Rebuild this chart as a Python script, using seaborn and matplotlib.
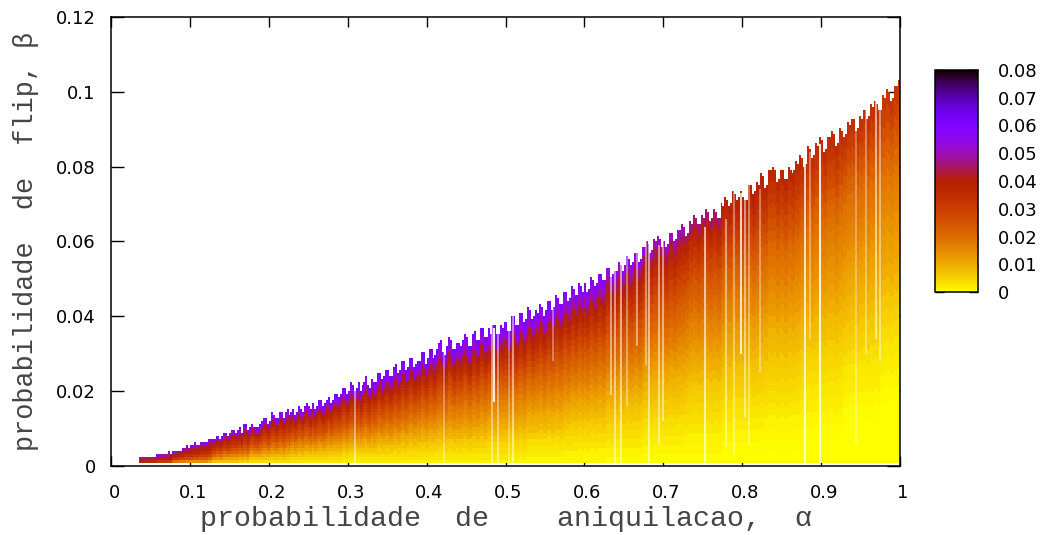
import numpy as np
import pandas as pd
import seaborn as sns
import matplotlib
matplotlib.use("Agg")
import matplotlib.pyplot as plt
from matplotlib.transforms import ScaledTranslation

x_label = "probabilidade  de    aniquilacao,  α"
y_label = "probabilidade  de  flip, β"
x_ticks = [0, 0.1, 0.2, 0.3, 0.4, 0.5, 0.6, 0.7, 0.8, 0.9, 1]
x_tick_labels = ["0", "0.1", "0.2", "0.3", "0.4", "0.5", "0.6", "0.7", "0.8", "0.9", "1"]
y_ticks = [0, 0.02, 0.04, 0.06, 0.08, 0.1, 0.12]
y_tick_labels = ["0", "0.02", "0.04", "0.06", "0.08", "0.1", "0.12"]
cbar_ticks = [0, 0.01, 0.02, 0.03, 0.04, 0.05, 0.06, 0.07, 0.08]
cbar_tick_labels = ["0", "0.01", "0.02", "0.03", "0.04", "0.05", "0.06", "0.07", "0.08"]

ALPHA_STEP = 0.0025
BETA_STEP = 0.0008
BETA_FLOOR = 0.0008
FIRST_COLUMN = 14

# Upper edge of the coloured region (in 0.001 of beta), one per alpha column from 0.035 on
column_tops = [
    2.0, 2.0, 2.1, 2.2, 2.2, 2.3,
    2.4, 2.4, 2.4, 2.6, 2.8, 2.8, 2.9, 3.0, 3.2, 3.4, 3.2, 3.4, 3.6, 3.6, 4.0, 4.0, 4.1, 4.6, 4.9, 4.6,
    5.0, 5.2, 5.7, 5.4, 5.6, 6.4, 6.2, 5.8, 6.0, 6.6, 7.2, 6.6, 6.8, 7.4, 7.7, 7.2, 7.4, 8.6, 8.6, 8.0,
    8.4, 9.4, 9.6, 8.8, 9.0, 9.8, 8.8, 10.6, 10.6, 9.4, 10.0, 11.2, 10.4, 9.8, 9.8, 10.6, 11.4, 12.6, 12.4, 11.2,
    12.0, 13.8, 13.6, 12.4, 12.8, 14.4, 13.8, 12.6, 14.2, 15.0, 13.2, 14.0, 15.0, 13.6, 14.4, 15.8, 15.2, 14.2, 15.8, 16.6,
    15.4, 14.6, 16.6, 15.2, 16.0, 17.2, 17.0, 15.8, 16.2, 17.6, 18.0, 16.4, 17.4, 19.0, 19.2, 17.8, 18.6, 20.6, 20.6, 18.8,
    19.8, 21.8, 21.6, 19.6, 20.6, 22.0, 20.0, 21.2, 22.4, 23.6, 21.4, 20.4, 23.0, 21.8, 22.2, 24.4, 24.8, 22.6, 23.6, 25.0,
    25.2, 23.4, 24.0, 26.2, 26.6, 24.6, 25.4, 27.8, 27.6, 25.6, 26.4, 28.6, 28.8, 26.2, 26.8, 28.0, 27.4, 30.2, 29.8, 27.2,
    28.4, 31.0, 30.6, 28.8, 29.2, 30.8, 32.6, 33.4, 30.4, 29.6, 31.4, 34.0, 33.6, 31.0, 30.6, 32.8, 32.6, 31.6, 33.0, 35.0,
    33.8, 31.6, 32.0, 35.0, 35.4, 33.0, 33.6, 36.8, 36.6, 34.0, 34.2, 36.2, 35.2, 37.6, 37.2, 34.8, 34.6, 37.4, 36.8, 38.4,
    38.2, 35.6, 36.0, 39.8, 39.4, 37.0, 37.4, 40.6, 40.2, 38.0, 38.6, 42.0, 41.6, 39.0, 39.4, 41.4, 40.4, 43.0, 42.4, 40.0,
    41.0, 43.8, 43.4, 41.6, 42.2, 45.2, 44.8, 42.6, 43.0, 46.4, 46.0, 43.8, 44.4, 47.4, 47.0, 45.0, 45.4, 48.4, 47.8, 46.0,
    48.4, 46.2, 46.8, 50.0, 49.6, 47.6, 48.2, 51.2, 50.8, 49.0, 49.6, 52.8, 52.4, 50.0, 50.6, 52.0, 51.4, 54.4, 53.6, 51.6,
    53.0, 55.4, 55.0, 53.2, 54.0, 56.8, 56.4, 54.4, 55.0, 58.0, 57.8, 59.4, 59.0, 56.8, 57.2, 60.2, 59.8, 61.0, 60.6, 58.4,
    60.0, 58.0, 58.6, 62.2, 61.8, 59.8, 60.4, 63.0, 62.6, 64.2, 63.8, 61.6, 62.2, 65.0, 64.6, 66.6, 66.0, 64.2, 64.8, 67.0,
    66.4, 68.4, 68.0, 65.6, 66.2, 68.2, 67.6, 65.8, 66.4, 70.0, 69.4, 71.4, 71.0, 69.6, 70.2, 73.0, 72.6, 70.8, 71.4, 73.4,
    72.0, 70.6, 71.2, 75.0, 74.6, 72.6, 73.0, 75.6, 75.0, 77.8, 77.2, 74.0, 74.6, 79.0, 78.6, 79.6, 79.0, 76.0, 76.6, 79.0,
    78.4, 76.2, 76.8, 79.8, 79.2, 77.8, 78.4, 81.2, 80.6, 82.6, 82.0, 80.0, 80.6, 85.0, 84.4, 82.4, 83.0, 86.2, 85.6, 87.6,
    86.8, 83.8, 84.4, 88.0, 87.6, 89.0, 88.4, 85.6, 86.2, 90.2, 89.6, 88.0, 88.6, 91.8, 91.2, 92.8, 92.2, 89.4, 90.0, 93.4,
    92.8, 95.0, 94.4, 92.4, 93.0, 96.2, 95.6, 97.0, 96.4, 94.4, 95.0, 98.6, 98.0, 100.2, 99.6, 97.6, 98.2, 101.6, 101.0, 103.0,
]

# Colour value (in 0.001) read at 20 alpha stations (0.05 ... 1.0), bottom layer first,
# each layer being one 24th of the column height
value_layers = [
    [10, 6, 3.5, 2.5, 2, 2, 2, 1.5, 1.5, 1, 1, 1, .5, .5, .5, 0, 0, 0, 0, 0],
    [13, 9, 5, 4, 3, 3, 3, 3, 2.5, 2.5, 2, 1.5, 1.5, 1, 1, .5, .5, 0, 0, 0],
    [18, 11, 7, 5.5, 4.5, 4, 4, 4, 3.5, 3.5, 3, 3, 2.5, 2, 1.5, 1, 1, .5, 0, 0],
    [22, 14, 9, 7, 6, 5.5, 5.5, 5, 5, 4.5, 4, 4, 3.5, 3, 2.5, 2, 1.5, 1, .5, 0],
    [26, 17, 11, 9, 7.5, 7, 7, 6.5, 6.5, 6, 5.5, 5, 4.5, 4, 3.5, 3, 2.5, 2, 1, .5],
    [30, 20, 14, 11, 9.5, 9, 9, 8.5, 8.5, 7.5, 7.5, 6.5, 6, 5, 4.5, 4, 3.5, 2.5, 2, 1],
    [32, 23, 16, 13, 11.5, 10.5, 10.5, 10, 10, 9.5, 9, 8, 7, 6.5, 5.5, 5, 4.5, 3.5, 2.5, 2],
    [34, 26, 19, 15.5, 13.5, 12.5, 12.5, 12, 12, 11, 10, 9.5, 8.5, 7.5, 6.5, 6, 5.5, 4.5, 3.5, 2.5],
    [36, 28, 21, 17.5, 15.5, 15, 15, 14, 13.5, 13, 12, 11, 10, 9, 8, 7, 6.5, 5.5, 5, 4],
    [38, 30, 23, 20, 18, 17, 17, 16, 15.5, 14.5, 14, 13, 12, 10.5, 9.5, 8.5, 8, 7, 6, 5],
    [39, 32, 25, 22, 20, 19, 19, 18, 17, 16, 15.5, 15, 14, 12, 11, 10, 9, 8, 7.5, 6.5],
    [40, 34, 28, 25, 23, 22, 21, 20, 19, 18, 17.5, 17, 16, 14, 13, 11.5, 10.5, 9.5, 9, 8],
    [41, 35.5, 30, 27, 25, 24, 23, 22, 21, 20, 19.5, 19, 18, 16, 14.5, 13, 12, 11, 10, 9.5],
    [42, 37, 32, 29, 27, 26, 25, 24, 23, 22, 21.5, 21, 20, 18, 16, 15, 13.5, 12.5, 11.5, 11],
    [43, 38.5, 34, 31, 29, 28, 27, 26.5, 25.5, 24.5, 24, 23, 22, 20, 18, 16.5, 15, 14, 13, 12],
    [44, 40, 36, 33, 31, 30, 29.5, 29, 28, 27, 26.5, 25, 24, 22, 20, 18, 17, 15.5, 14.5, 13.5],
    [45, 41, 37.5, 35, 33.5, 33, 32, 31.5, 30.5, 30, 29, 28, 26, 24, 22, 20, 18.5, 17, 16, 15],
    [46, 42, 39, 37, 36, 35.5, 35, 34.5, 33.5, 33, 32, 31, 29, 26.5, 24, 22, 20, 18.5, 17.5, 16.5],
    [47, 43, 41, 39.5, 38.5, 38, 37.5, 37, 36.5, 36, 35, 34, 32, 29, 26.5, 24.5, 22.5, 20.5, 19, 18],
    [48, 44, 42, 41, 40.5, 40, 40, 39.5, 39, 39, 38, 37, 35, 32, 29, 27, 25, 23, 21, 20],
    [50, 47, 45, 45, 45, 45, 44, 44, 43, 43, 41, 40, 38, 35, 32, 30, 28, 26, 24, 22.5],
    [54, 53, 53, 53, 53, 53, 53, 53, 52, 52, 50, 47, 42, 38, 35.5, 33, 31, 29, 27, 25.5],
    [57, 57, 57, 57, 57, 57, 57, 57, 56, 56, 55, 53, 48, 43, 38.5, 36, 34, 32, 30, 28.5],
    [60, 60, 60, 60, 60, 60, 60, 60, 60, 60, 59, 58, 54, 50, 45, 38.5, 37, 35, 33.5, 32],
]

# Pale vertical streaks: alpha, beta range, opacity
streak_alpha = [.3095, .422, .483, .486, .4907, .5047, .509, .5607, .6334, .6384, .646, .6536, .6667, .678, .682,
                .6945, .699, .753, .7795, .79, .798, .8035, .8086, .8228, .8796, .886, .8989, .9439, .957, .9696, .9746]
streak_low = [.0008, .0008, .0008, .0170, .0008, .0008, .0008, .0280, .0190, .0008, .0008, .0160, .0320, .0270, .0008,
              .0060, .0120, .0008, .0050, .0030, .0300, .0130, .0060, .0250, .0008, .0340, .0008, .0060, .0300, .0340, .0280]
streak_high = [.0200, .0320, .0390, .0370, .0380, .0400, .0400, .0440, .0570, .0570, .0590, .0570, .0600, .0610, .0660,
               .0590, .0640, .0640, .0660, .0740, .0730, .0740, .0770, .0740, .0880, .0840, .0860, .0910, .1000, .1010, .1000]
streak_opacity = [.5, .4, .5, .95, .5, .35, .55, .4, .55, .55, .6, .4, .5, .45, .6,
                  .55, .55, .7, .5, .4, .85, .55, .4, .4, .85, .4, .95, .35, .4, .6, .5]

# Assemble the cell table from the arrays above
n_rows = 150
n_cols = 400
n_layers = len(value_layers)
grid = np.full((n_rows, n_cols), np.nan)
for k, top in enumerate(column_tops):
    j = FIRST_COLUMN + k
    station = min(19, max(0, int(round((j * ALPHA_STEP) / 0.05)) - 1))
    for i in range(n_rows):
        low = i * BETA_STEP
        if low < BETA_FLOOR - 1e-9:
            continue
        if low >= top * 0.001:
            break
        layer = min(n_layers - 1, int(low / (top * 0.001) * n_layers))
        grid[i, j] = value_layers[layer][station] * 0.001
frame = pd.DataFrame(grid)

W, H = 1042, 535
sns.set_style("white")
plt.rcParams["font.family"] = ["DejaVu Sans"]
fig = plt.figure(figsize=(W / 100, H / 100), dpi=100, facecolor="white")
ax = fig.add_axes([111 / W, 1 - 466 / H, 789 / W, 449 / H])
cax = fig.add_axes([935 / W, 1 - 292 / H, 43 / W, 222 / H])

sns.heatmap(frame, ax=ax, cbar_ax=cax, cmap="gnuplot_r", vmin=0, vmax=0.08,
            xticklabels=False, yticklabels=False, rasterized=True,
            cbar_kws={"ticks": cbar_ticks})
ax.set_xlim(0, n_cols)
ax.set_ylim(0, n_rows)

ax.vlines(np.array(streak_alpha) / ALPHA_STEP, np.array(streak_low) / BETA_STEP,
          np.array(streak_high) / BETA_STEP, colors=[(1, 1, 1, o) for o in streak_opacity], lw=1.3)

for s in ax.spines.values():
    s.set_visible(True)
    s.set_color("black")
    s.set_linewidth(1.1)

ax.set_xticks(np.array(x_ticks) / ALPHA_STEP)
ax.set_xticklabels(x_tick_labels, rotation=0, fontsize=13)
ax.set_yticks(np.array(y_ticks) / BETA_STEP)
ax.set_yticklabels(y_tick_labels, rotation=0, fontsize=13)
ax.tick_params(axis="x", which="major", direction="in", length=7, width=1, color="black",
               bottom=True, top=True, pad=13, labelcolor="black")
ax.tick_params(axis="y", which="major", direction="in", length=9.4, width=1, color="black",
               left=True, right=True, pad=11, labelcolor="black")
shift = ScaledTranslation(3 / 100, 0, fig.dpi_scale_trans)
for lab in ax.get_xticklabels():
    lab.set_transform(lab.get_transform() + shift)

mono = ["Liberation Mono", "DejaVu Sans Mono"]
ax.set_xlabel(x_label, fontsize=20.4, family=mono, color="#444444", labelpad=3)
ax.set_ylabel(y_label, fontsize=19.4, family=mono, color="#444444", labelpad=12)

cbar = ax.collections[0].colorbar
cbar.set_ticks(cbar_ticks, labels=cbar_tick_labels)
cax.tick_params(axis="y", direction="in", length=6.5, width=1, color="black",
                left=True, right=True, pad=14, labelsize=13, labelcolor="black")
cbar.outline.set_visible(True)
cbar.outline.set_edgecolor("black")
cbar.outline.set_linewidth(1.1)

fig.savefig("out.png", dpi=100)
